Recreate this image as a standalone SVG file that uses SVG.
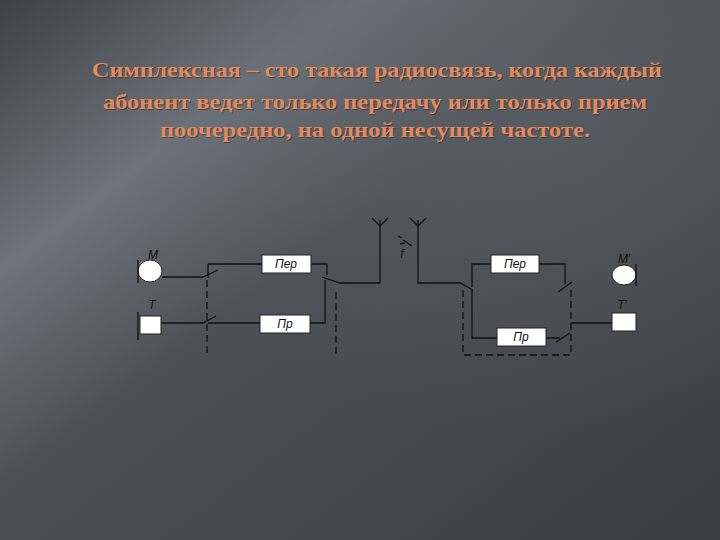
<svg xmlns="http://www.w3.org/2000/svg" width="720" height="540" viewBox="0 0 720 540">
<defs>
<linearGradient id="bg" x1="0" y1="0" x2="1" y2="1">
<stop offset="0" stop-color="#3e4146"/>
<stop offset="0.25" stop-color="#6d737b"/>
<stop offset="0.45" stop-color="#4d5157"/>
<stop offset="1" stop-color="#3a3c40"/>
</linearGradient>
<radialGradient id="glow" cx="0.75" cy="0.2" r="0.6">
<stop offset="0" stop-color="#5f646b" stop-opacity="0.6"/>
<stop offset="1" stop-color="#5f646b" stop-opacity="0"/>
</radialGradient>
<style>
.t{font-family:"Liberation Serif",serif;font-weight:bold;font-size:22px;fill:#e58a5c;text-anchor:middle}
.ts{font-family:"Liberation Serif",serif;font-weight:bold;font-size:22px;fill:#2a2a2a;text-anchor:middle;opacity:0.6}
.w{stroke:#111;stroke-width:1.3;fill:none}
.d{stroke:#111;stroke-width:1.3;fill:none;stroke-dasharray:7,4}
.box{fill:#fff;stroke:#222;stroke-width:1}
.lb{font-family:"Liberation Sans",sans-serif;font-style:italic;font-size:12px;fill:#111;text-anchor:middle}
</style>
</defs>
<rect width="720" height="540" fill="url(#bg)"/>
<rect width="720" height="540" fill="url(#glow)"/>
<g id="title">
<text class="ts" x="378" y="78" textLength="570" lengthAdjust="spacingAndGlyphs">Симплексная – сто такая радиосвязь, когда каждый</text>
<text class="ts" x="376" y="110" textLength="544" lengthAdjust="spacingAndGlyphs">абонент ведет только передачу или только прием</text>
<text class="ts" x="376" y="138" textLength="430" lengthAdjust="spacingAndGlyphs">поочередно, на одной несущей частоте.</text>
<text class="t" x="377" y="77" textLength="570" lengthAdjust="spacingAndGlyphs">Симплексная – сто такая радиосвязь, когда каждый</text>
<text class="t" x="375" y="109" textLength="544" lengthAdjust="spacingAndGlyphs">абонент ведет только передачу или только прием</text>
<text class="t" x="375" y="137" textLength="430" lengthAdjust="spacingAndGlyphs">поочередно, на одной несущей частоте.</text>
</g>
<g id="connectors">
<path class="w" d="M162 277 H203 L218 270 M208 264 V278 M208 264 H262 M311 264 H327 V275 M322 277 L340 283 H380 V220 M372 218 L380 226 L388 218"/>
<path class="w" d="M161 323 H203 L216 316 M208 323 H260 M310 323 H325 V280"/>
<path class="d" d="M207 280 V357 M336 292 V357"/>
<path class="w" d="M403 240 L412 246 M398 236 L402 238 M400 244 L405 243"/>
<path class="w" d="M418 220 V283 H460 L473 290 M410 218 L418 226 L426 218"/>
<path class="w" d="M472 287 V264 H491 M539 264 H565 V284 M558 292 L572 282 M472 290 V338 H497 M546 338 H560 M556 342 L570 333 M571 323 H612"/>
<path class="d" d="M463 290 V355 H571 V288"/>
</g>
<g id="M"><ellipse cx="150" cy="271" rx="12" ry="11" fill="#fff" stroke="#222"/><path class="w" d="M138 260 V283"/><text class="lb" x="153" y="259">M</text></g>
<g id="T"><rect class="box" x="140" y="316" width="21" height="18"/><path class="w" d="M138 312 V340"/><text class="lb" x="152" y="309">T</text></g>
<g id="per1"><rect class="box" x="262" y="255" width="49" height="18"/><text class="lb" x="286" y="268">Пер</text></g>
<g id="pr1"><rect class="box" x="260" y="315" width="50" height="18"/><text class="lb" x="285" y="328">Пр</text></g>
<g id="per2"><rect class="box" x="491" y="255" width="48" height="18"/><text class="lb" x="515" y="268">Пер</text></g>
<g id="pr2"><rect class="box" x="497" y="328" width="49" height="18"/><text class="lb" x="521" y="341">Пр</text></g>
<g id="M2"><ellipse cx="624" cy="275" rx="12" ry="10" fill="#fff" stroke="#222"/><path class="w" d="M636 264 V286"/><text class="lb" x="624" y="263">M′</text></g>
<g id="T2"><rect class="box" x="612" y="313" width="24" height="18"/><text class="lb" x="622" y="309">T′</text></g>
<g id="f"><text class="lb" x="402" y="258">f</text></g>
</svg>
